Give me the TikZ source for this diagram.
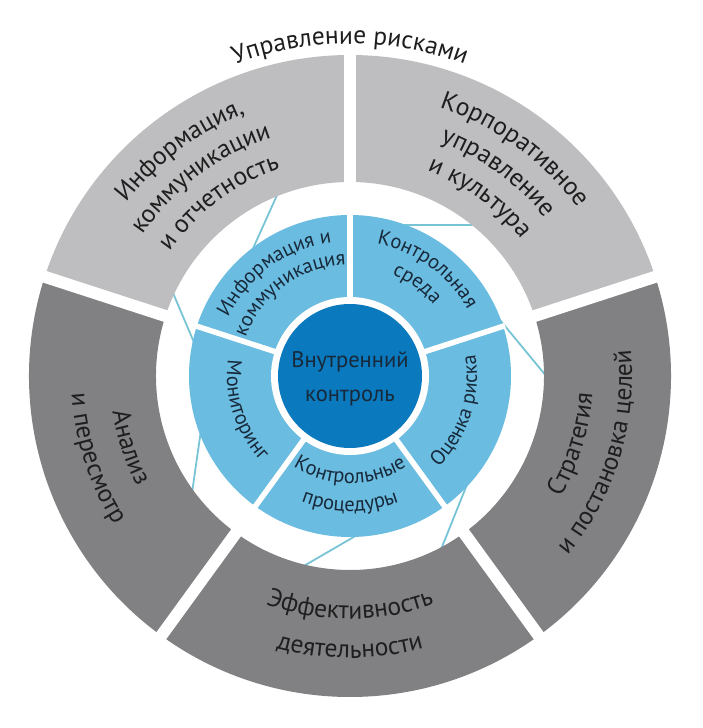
\documentclass[tikz,border=0pt]{standalone}
\usepackage{fontspec}
\setmainfont{PT Sans}
\usetikzlibrary{decorations.text}
\definecolor{lgray}{HTML}{BEBEC0}
\definecolor{dgray}{HTML}{818184}
\definecolor{lblue}{HTML}{6ABCE0}
\definecolor{dblue}{HTML}{0B79BD}
\definecolor{tealline}{HTML}{78C4D4}
\definecolor{txtdark}{HTML}{1E1E1E}
\definecolor{txtin}{HTML}{17293A}
\newcommand\outerfont{\fontsize{25.5}{30}\selectfont}
\newcommand\innerfont{\fontsize{20.5}{24}\selectfont}
\newcommand\ringsector[5]{\fill[#5] (#1:#4) arc[start angle=#1,end angle=#2,radius=#4] -- (#2:#3) arc[start angle=#2,end angle=#1,radius=#3] -- cycle;}
\newcommand\cwtext[4]{\path[decorate,decoration={text along path,text align=center,text color=#3,text={#4}}] (#1+70:#2) arc[start angle=#1+70,end angle=#1-70,radius=#2];}
\newcommand\ccwtext[4]{\path[decorate,decoration={text along path,text align=center,text color=#3,text={#4}}] (#1-70:#2) arc[start angle=#1-70,end angle=#1+70,radius=#2];}
\tikzset{
  linkline/.style={tealline,line width=1.8},
  ringgap/.style={white,line width=12},
  innergap/.style={white,line width=5.5},
  centertext/.style={anchor=base,font=\fontsize{22.5}{26}\selectfont,text=txtin,inner sep=0}
}
\begin{document}
\begin{tikzpicture}[x=1pt,y=1pt]
\useasboundingbox (-350,-352) rectangle (353,376);
% thin connecting lines in the white gap
\coordinate (l1a) at (-66.6,195);  \coordinate (l1b) at (-102.6,115);
\coordinate (l2a) at (140,151);    \coordinate (l2b) at (30,151);
\coordinate (l3a) at (206.4,-12.4);\coordinate (l3b) at (133.5,76);
\coordinate (l4a) at (85.6,-187);  \coordinate (l4b) at (123,-93.5);
\coordinate (l5a) at (-58,-196.8); \coordinate (l5b) at (17,-153.3);
\coordinate (l6a) at (-159.6,-128.2); \coordinate (l6b) at (-147.2,-41.4);
\coordinate (l7a) at (-181,92.4);  \coordinate (l7b) at (-151,21.9);
\foreach \i in {1,...,7} \draw[linkline] (l\i a) -- (l\i b);
% outer ring
\ringsector{90}{162}{194}{321}{lgray}
\ringsector{18}{90}{194}{321}{lgray}
\ringsector{-54}{18}{194}{321}{dgray}
\ringsector{-126}{-54}{194}{321}{dgray}
\ringsector{162}{234}{194}{321}{dgray}
\foreach \a in {90,18,-54,-126,162} \draw[ringgap] (\a:188) -- (\a:328);
% inner ring
\fill[lblue] (0,0) circle[radius=161];
\foreach \a in {90,18,-54,-126,162} \draw[innergap] (\a:70) -- (\a:163);
\fill[white] (0,0) circle[radius=79];
\fill[dblue] (0,0) circle[radius=72];
% centre text
\node[centertext] (c1) at (0,9) {Внутренний};
\node[centertext] (c2) at (0,-25) {контроль};
% title
\cwtext{90}{332}{txtdark}{|\outerfont|Управление рисками}
% outer texts
\cwtext{127}{283}{txtdark}{|\outerfont|Информация,}
\cwtext{127}{251}{txtdark}{|\outerfont|коммуникации}
\cwtext{127}{219}{txtdark}{|\outerfont|и отчетность}
\cwtext{54}{283}{txtdark}{|\outerfont|Корпоративное}
\cwtext{54}{251}{txtdark}{|\outerfont|управление}
\cwtext{54}{219}{txtdark}{|\outerfont|и культура}
\ccwtext{-17}{243}{txtdark}{|\outerfont|Стратегия}
\ccwtext{-17}{282}{txtdark}{|\outerfont|и постановка целей}
\ccwtext{270}{243}{txtdark}{|\outerfont|Эффективность}
\ccwtext{270}{282}{txtdark}{|\outerfont|деятельности}
\ccwtext{198}{240}{txtdark}{|\outerfont|Анализ}
\ccwtext{198}{279}{txtdark}{|\outerfont|и пересмотр}
% inner texts
\cwtext{126}{135}{txtin}{|\innerfont|Информация и}
\cwtext{126}{111}{txtin}{|\innerfont|коммуникация}
\cwtext{54}{135}{txtin}{|\innerfont|Контрольная}
\cwtext{54}{110}{txtin}{|\innerfont|среда}
\ccwtext{-18}{127}{txtin}{|\innerfont|Оценка риска}
\ccwtext{270}{107}{txtin}{|\innerfont|Контрольные}
\ccwtext{270}{135}{txtin}{|\innerfont|процедуры}
\ccwtext{198}{123}{txtin}{|\innerfont|Мониторинг}
\end{tikzpicture}
\end{document}
